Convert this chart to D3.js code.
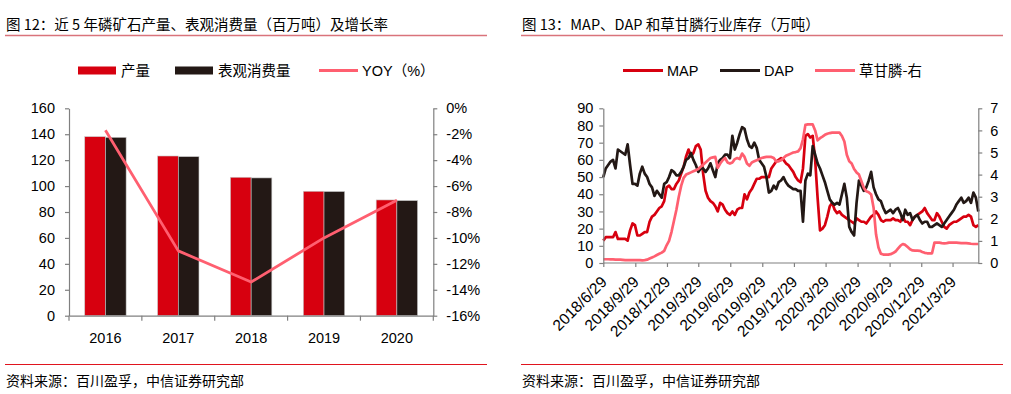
<!DOCTYPE html>
<html><head><meta charset="utf-8">
<script src="https://cdn.jsdelivr.net/npm/d3@7"></script>
<style>
html,body{margin:0;padding:0;background:#fff;}
svg{display:block;}
text{font-family:"Liberation Sans",Arial,"Noto Sans CJK SC",sans-serif;fill:#000;}
.cn{font-family:"Noto Sans CJK SC","Liberation Sans",sans-serif;}
</style></head>
<body>
<svg id="c" width="1011" height="394"></svg>
<script>
// ---------- Left chart data ----------
const years = ["2016","2017","2018","2019","2020"];
const production = [138.1, 123.2, 106.8, 96.0, 89.3];
const consumption = [137.6, 122.7, 106.3, 95.8, 88.8];
const yoy = [-1.7, -11.0, -13.4, -10.0, -7.1];
const leftTicks = [0,20,40,60,80,100,120,140,160];
const rightTicksPct = [0,-2,-4,-6,-8,-10,-12,-14,-16];

// ---------- Right chart data (weekly from 2018/6/29) ----------
const startDate = "2018-06-29";
const mapVals = [13,15,15,15,15,18,14,14,14,14,
13,19,23,22,16,16,17,18,18,24,
27,28,30,32,33,36,44,45,43,43,
46,48,52,56,62,66,62,64,68,69,
66,52,42,38,36,35,33,30,35,34,
31,29,28,30,28,31,32,32,40,37,
41,43,46,49,49,50,50,50,50,55,
57,59,60,61,60,58,57,55,53,50,
48,47,55,74,75,73,74,60,38,19,
20,22,27,33,35,31,29,30,28,27,
26,25,24,23,26,25,24,24,23,25,
27,28,30,28,25,24,25,25,25,26,
25,25,24,27,24,24,22,25,27,28,
29,30,32,29,27,25,25,29,27,24,
21,20,22,23,24,24,25,26,27,27,
28,27,22,21,22];
const dapVals = [50,55,57,59,60,55,66,65,64,63,
69,57,46,46,45,52,56,52,50,46,
44,39,42,40,38,46,47,50,54,53,
51,51,53,56,60,61,64,60,57,53,
55,55,53,55,58,54,50,58,60,61,
63,63,61,74,66,70,75,79,78,72,
68,67,70,67,60,58,56,50,41,42,
45,43,47,48,50,47,45,44,43,43,
42,42,24,48,52,51,68,63,58,55,
51,47,42,37,35,34,35,34,40,46,
38,21,18,16,35,48,45,42,44,48,
53,44,40,37,36,32,29,30,31,29,
31,32,29,25,31,28,29,25,27,28,
25,23,24,24,21,21,22,23,22,21,
23,25,27,29,31,34,36,38,35,36,
38,35,41,38,30];
const glyVals = [0.17,0.17,0.17,0.16,0.16,0.15,0.15,0.15,0.14,0.13,
0.13,0.13,0.13,0.13,0.13,0.13,0.12,0.13,0.15,0.2,
0.25,0.3,0.36,0.42,0.47,0.55,0.8,1.0,1.4,1.9,
2.4,3.0,3.5,3.85,4.0,4.05,4.1,4.15,4.2,4.25,
4.35,4.45,4.55,4.65,4.75,4.78,4.8,4.3,4.5,4.65,
4.75,4.55,4.5,4.55,4.7,4.75,4.7,4.95,4.8,4.5,
4.4,4.55,4.6,4.65,4.7,4.75,4.78,4.8,4.8,4.8,
4.75,4.6,4.6,4.65,4.75,4.85,4.9,4.95,5.0,5.02,
5.05,5.2,5.6,6.25,6.27,6.27,6.27,6.0,5.55,5.65,
5.72,5.8,5.85,5.88,5.9,5.9,5.9,5.9,5.75,5.5,
4.9,4.6,4.5,4.25,4.1,4.0,3.7,3.4,3.25,3.2,
3.1,2.5,1.3,0.7,0.42,0.38,0.38,0.38,0.4,0.45,
0.52,0.65,0.78,0.86,0.82,0.72,0.62,0.57,0.56,0.56,
0.55,0.5,0.46,0.44,0.44,0.44,0.92,0.92,0.92,0.9,
0.89,0.9,0.92,0.92,0.92,0.92,0.91,0.9,0.9,0.9,
0.89,0.87,0.86,0.86,0.86];
const rLeftTicks = [0,10,20,30,40,50,60,70,80,90];
const rRightTicks = [0,1,2,3,4,5,6,7];
const dateTickLabels = ["2018/6/29","2018/9/29","2018/12/29","2019/3/29","2019/6/29","2019/9/29","2019/12/29","2020/3/29","2020/6/29","2020/9/29","2020/12/29","2021/3/29"];

// ---------- Colours ----------
const RED = "#d7000f", BLACK = "#231815", PINK = "#ff5f70", AXIS = "#808080";

const svg = d3.select("#c");

// ---------- Titles / footers ----------
function header(x0, x1, title){
  svg.append("text").attr("class","cn").attr("x",x0+1).attr("y",30)
    .attr("font-size",14.5).text(title);
  svg.append("line").attr("x1",x0).attr("x2",x1).attr("y1",35.5).attr("y2",35.5)
    .attr("stroke","#d9737b").attr("stroke-width",1.6);
  svg.append("line").attr("x1",x0).attr("x2",x1).attr("y1",364.5).attr("y2",364.5)
    .attr("stroke","#e0141e").attr("stroke-width",1);
  svg.append("text").attr("class","cn").attr("x",x0+1).attr("y",386)
    .attr("font-size",14).attr("fill","#222").text("资料来源：百川盈孚，中信证券研究部");
}
header(5, 487, "图 12：近 5 年磷矿石产量、表观消费量（百万吨）及增长率");
header(521, 1003, "图 13：MAP、DAP 和草甘膦行业库存（万吨）");

// ---------- Left chart ----------
const L = {x0:69, x1:433.3, y0:315.7, y1:108.3};
const xb = d3.scaleBand().domain(years).range([L.x0, L.x1]).padding(0);
const yl = d3.scaleLinear().domain([0,160]).range([L.y0, L.y1]);
const yr = d3.scaleLinear().domain([-16,0]).range([L.y0, L.y1]);
const barW = xb.step()*0.284;

const gL = svg.append("g");
gL.selectAll(".bp").data(years).enter().append("rect")
  .attr("x", d=>xb(d)+xb.bandwidth()/2-barW)
  .attr("y", (d,i)=>yl(production[i]))
  .attr("width", barW).attr("height",(d,i)=>yl(0)-yl(production[i]))
  .attr("fill",RED).attr("stroke","#c8c8c8").attr("stroke-width",0.6);
gL.selectAll(".bc").data(years).enter().append("rect")
  .attr("x", d=>xb(d)+xb.bandwidth()/2)
  .attr("y", (d,i)=>yl(consumption[i]))
  .attr("width", barW).attr("height",(d,i)=>yl(0)-yl(consumption[i]))
  .attr("fill",BLACK).attr("stroke","#c8c8c8").attr("stroke-width",0.6);

gL.append("path").datum(yoy)
  .attr("d", d3.line().x((d,i)=>xb(years[i])+xb.bandwidth()/2).y(d=>yr(d)))
  .attr("fill","none").attr("stroke",PINK).attr("stroke-width",2.8).attr("stroke-linejoin","round");

function styleAxis(g){
  g.selectAll("path,line").attr("stroke",AXIS).attr("stroke-width",1.2);
  g.selectAll("text").attr("font-size",14.5).attr("fill","#000")
    .attr("font-family","'Liberation Sans',Arial,sans-serif");
}
const axL = gL.append("g").attr("transform",`translate(${L.x0},0)`)
  .call(d3.axisLeft(yl).tickValues(leftTicks).tickSize(4).tickPadding(10).tickSizeOuter(0));
styleAxis(axL);
const axR = gL.append("g").attr("transform",`translate(${L.x1},0)`)
  .call(d3.axisRight(yr).tickValues(rightTicksPct).tickFormat(d=>d+"%").tickSize(4).tickPadding(9).tickSizeOuter(0));
styleAxis(axR);
// bottom axis with ticks at band boundaries
const axB = gL.append("g").attr("transform",`translate(0,${L.y0})`)
  .call(d3.axisBottom(xb).tickSize(0).tickPadding(17).tickSizeOuter(0));
styleAxis(axB);
axB.selectAll(".bnd").data(years.concat(["end"])).enter().append("line")
  .attr("x1",(d,i)=>L.x0+i*xb.step()).attr("x2",(d,i)=>L.x0+i*xb.step())
  .attr("y1",0).attr("y2",5).attr("stroke",AXIS).attr("stroke-width",1.2);

// Left legend
const lg = svg.append("g");
lg.append("rect").attr("x",78).attr("y",66.5).attr("width",38).attr("height",8).attr("fill",RED);
lg.append("text").attr("class","cn").attr("x",121).attr("y",76).attr("font-size",14.5).text("产量");
lg.append("rect").attr("x",175).attr("y",66.5).attr("width",38).attr("height",8).attr("fill",BLACK);
lg.append("text").attr("class","cn").attr("x",218).attr("y",76).attr("font-size",14.5).text("表观消费量");
lg.append("line").attr("x1",319).attr("x2",358).attr("y1",70.5).attr("y2",70.5).attr("stroke",PINK).attr("stroke-width",2.8);
lg.append("text").attr("x",362).attr("y",76).attr("font-size",14.5)
  .html('YOY<tspan font-family="Noto Sans CJK SC">（</tspan>%<tspan font-family="Noto Sans CJK SC">）</tspan>');

// ---------- Right chart ----------
const R = {x0:603.3, x1:978.3, y0:263, y1:108.3};
const parse = d3.timeParse("%Y-%m-%d");
const d0 = parse(startDate);
const dates = mapVals.map((v,i)=>d3.timeDay.offset(d0, 7*i));
const xt = d3.scaleTime().domain([dates[0], dates[dates.length-1]]).range([R.x0, R.x1]);
const yL2 = d3.scaleLinear().domain([0,90]).range([R.y0, R.y1]);
const yR2 = d3.scaleLinear().domain([0,7]).range([R.y0, R.y1]);
const gR = svg.append("g");

function drawLine(vals, scale, color){
  gR.append("path").datum(vals)
    .attr("d", d3.line().x((d,i)=>xt(dates[i])).y(d=>scale(d)))
    .attr("fill","none").attr("stroke",color).attr("stroke-width",2.7)
    .attr("stroke-linejoin","round");
}
drawLine(mapVals, yL2, RED);
drawLine(dapVals, yL2, BLACK);
drawLine(glyVals, yR2, PINK);

const ax2L = gR.append("g").attr("transform",`translate(${R.x0},0)`)
  .call(d3.axisLeft(yL2).tickValues(rLeftTicks).tickSize(4).tickPadding(6).tickSizeOuter(0));
styleAxis(ax2L);
const ax2R = gR.append("g").attr("transform",`translate(${R.x1},0)`)
  .call(d3.axisRight(yR2).tickValues(rRightTicks).tickFormat(d3.format("d")).tickSize(4).tickPadding(8).tickSizeOuter(0));
styleAxis(ax2R);
const tickDates = dateTickLabels.map(s=>d3.timeParse("%Y/%m/%d")(s));
const ax2B = gR.append("g").attr("transform",`translate(0,${R.y0})`)
  .call(d3.axisBottom(xt).tickValues(tickDates).tickFormat((d,i)=>dateTickLabels[i]).tickSize(4).tickSizeOuter(0));
styleAxis(ax2B);
ax2B.select(".domain").attr("d",`M${R.x0},0H${R.x1}`);
ax2B.selectAll("text").attr("font-size",15.5).attr("text-anchor","end")
  .attr("dy",0).attr("y",0)
  .attr("transform","translate(4,20) rotate(-45)");

// Right legend
const rg = svg.append("g");
rg.append("line").attr("x1",623).attr("x2",663).attr("y1",70.5).attr("y2",70.5).attr("stroke",RED).attr("stroke-width",2.8);
rg.append("text").attr("x",667).attr("y",76).attr("font-size",14.5).text("MAP");
rg.append("line").attr("x1",720).attr("x2",760).attr("y1",70.5).attr("y2",70.5).attr("stroke",BLACK).attr("stroke-width",2.8);
rg.append("text").attr("x",764).attr("y",76).attr("font-size",14.5).text("DAP");
rg.append("line").attr("x1",815).attr("x2",855).attr("y1",70.5).attr("y2",70.5).attr("stroke",PINK).attr("stroke-width",2.8);
rg.append("text").attr("class","cn").attr("x",859).attr("y",76).attr("font-size",14.5).text("草甘膦-右");
</script>
</body></html>
